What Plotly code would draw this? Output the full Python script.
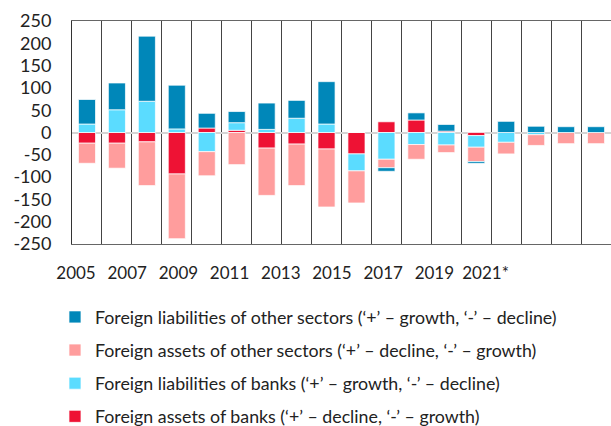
import plotly.graph_objects as go

years = list(range(2005, 2023))
label_years = [2005, 2007, 2009, 2011, 2013, 2015, 2017, 2019, 2021]
label_text = ["2005", "2007", "2009", "2011", "2013", "2015", "2017", "2019", "2021*"]
y_ticks = [250, 200, 150, 100, 50, 0, -50, -100, -150, -200, -250]
y_tick_text = ["250", "200", "150", "100", "50", "0", "-50", "-100", "-150", "-200", "-250"]

banks_assets = [-24, -24, -21, -93, 10, 5, -35, -26, -37, -48, 24, 28, 3, -7, 0, 0, 0, 0]
banks_liab = [19, 51, 70, 8, -43, 17, 7, 32, 19, -38, -60, -27, -28, -26, -22, -5, 0, 0]
other_assets = [-45, -56, -98, -145, -54, -72, -106, -93, -130, -72, -19, -33, -17, -32, -26, -24, -25, -25]
other_liab = [55, 60, 146, 98, 33, 25, 59, 40, 95, 0, -8, 16, 15, -4, 25, 14, 13, 13]

names = {
    "ol": "Foreign liabilities of other sectors (\u2018+\u2019 \u2013 growth, \u2018-\u2019 \u2013 decline)",
    "oa": "Foreign assets of other sectors (\u2018+\u2019 \u2013 decline, \u2018-\u2019 \u2013 growth)",
    "bl": "Foreign liabilities of banks (\u2018+\u2019 \u2013 growth, \u2018-\u2019 \u2013 decline)",
    "ba": "Foreign assets of banks (\u2018+\u2019 \u2013 decline, \u2018-\u2019 \u2013 growth)",
}
colors = {"ol": "#0087B9", "oa": "#FF9D9D", "bl": "#5BDCFF", "ba": "#EE1234"}
ranks = {"ol": 1, "oa": 2, "bl": 3, "ba": 4}

fig = go.Figure()
for key, vals in [("ba", banks_assets), ("bl", banks_liab), ("oa", other_assets), ("ol", other_liab)]:
    fig.add_trace(go.Bar(
        x=years, y=vals, name=names[key], legendgroup=key, legendrank=ranks[key],
        marker=dict(color=colors[key], line=dict(color="rgba(255,255,255,0.7)", width=1)),
    ))

# invisible carrier so the label axis is drawn
fig.add_trace(go.Scatter(
    x=label_years, y=[0] * len(label_years), xaxis="x2", mode="markers",
    marker=dict(opacity=0), showlegend=False, hoverinfo="skip",
))

font = "Lato, 'Open Sans', sans-serif"
fig.update_layout(
    width=611, height=426,
    margin=dict(l=72, r=0, t=21, b=182, autoexpand=False),
    barmode="relative", bargap=0.43,
    plot_bgcolor="white", paper_bgcolor="white",
    font=dict(family=font, color="#222", size=17),
    showlegend=True,
    legend=dict(
        orientation="v", traceorder="grouped", tracegroupgap=7,
        xref="container", yref="container",
        x=0.09, xanchor="left", y=0.2985, yanchor="top",
        font=dict(size=17.8, color="#222"), bgcolor="rgba(0,0,0,0)",
    ),
    xaxis=dict(
        range=[2004.5, 2022.5], tick0=2004.5, dtick=1,
        showgrid=True, gridcolor="#444", gridwidth=1,
        showticklabels=False, ticks="", zeroline=False,
        showline=True, mirror=True, linecolor="#666", linewidth=1,
        automargin=False,
    ),
    xaxis2=dict(
        overlaying="x", anchor="y", side="bottom",
        range=[2004.844, 2025.9], tickvals=label_years, ticktext=label_text,
        showgrid=False, zeroline=False, showline=False,
        ticks="outside", ticklen=14, tickcolor="rgba(0,0,0,0)",
        tickfont=dict(size=17, color="#222"), automargin=False,
    ),
    yaxis=dict(
        range=[-250, 250], tickvals=y_ticks, ticktext=y_tick_text,
        showgrid=False, zeroline=True, zerolinecolor="#d4d4d4", zerolinewidth=1.5,
        showline=True, linecolor="#333", linewidth=1,
        ticks="outside", ticklen=16, tickcolor="rgba(0,0,0,0)",
        tickfont=dict(size=18, color="#222"), automargin=False,
    ),
)
fig.write_html(
    "out.html",
    config={"displayModeBar": False},
    post_script="document.body.style.margin='0';document.body.style.overflow='hidden';",
)
